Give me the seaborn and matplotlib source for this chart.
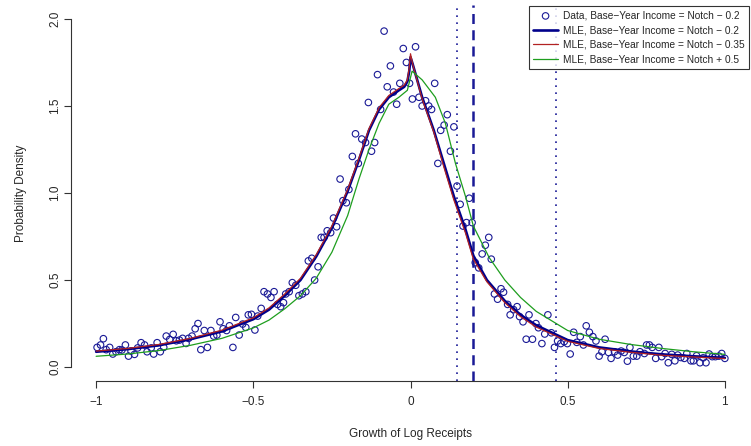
import numpy as np
import pandas as pd
import matplotlib
matplotlib.use("Agg")
import matplotlib.pyplot as plt
import seaborn as sns

data_x = [-0.997, -0.986, -0.977, -0.968, -0.957, -0.947, -0.937, -0.926, -0.918, -0.907,
          -0.897, -0.889, -0.878, -0.868, -0.857, -0.846, -0.838, -0.825, -0.817, -0.806,
          -0.796, -0.785, -0.777, -0.766, -0.755, -0.745, -0.735, -0.725,
          -0.714, -0.706, -0.695, -0.685, -0.676, -0.667, -0.656, -0.646, -0.635, -0.626,
          -0.616, -0.606, -0.596, -0.585, -0.576, -0.565, -0.556, -0.545, -0.534, -0.524,
          -0.516, -0.506, -0.495, -0.486, -0.475, -0.466, -0.455, -0.444, -0.434, -0.423,
          -0.413, -0.404, -0.397, -0.386, -0.376, -0.365, -0.355, -0.344, -0.333, -0.325,
          -0.314, -0.305, -0.294, -0.284, -0.275, -0.265, -0.254, -0.245, -0.235, -0.224,
          -0.215, -0.204, -0.196, -0.185, -0.175, -0.166, -0.155, -0.143, -0.134, -0.124,
          -0.114, -0.105, -0.095, -0.084, -0.074, -0.064, -0.054, -0.044, -0.034, -0.023,
          -0.013, -0.003, 0.006, 0.016, 0.027, 0.037, 0.048, 0.058, 0.067, 0.077,
          0.087, 0.096, 0.107, 0.117, 0.127, 0.138, 0.148, 0.158, 0.167, 0.178,
          0.187, 0.196, 0.206, 0.217, 0.228, 0.238, 0.249, 0.257, 0.267, 0.277,
          0.288, 0.296, 0.309, 0.317, 0.328, 0.339, 0.347, 0.358, 0.368, 0.377,
          0.388, 0.399, 0.407, 0.418, 0.427, 0.437, 0.448, 0.458, 0.468, 0.478,
          0.489, 0.499, 0.508, 0.519, 0.529, 0.540, 0.550, 0.559, 0.569, 0.580,
          0.590, 0.600, 0.609, 0.619, 0.630, 0.638, 0.649, 0.659, 0.670, 0.680,
          0.690, 0.698, 0.709, 0.720, 0.730, 0.744, 0.751, 0.760, 0.769, 0.780,
          0.790, 0.799, 0.810, 0.820, 0.831, 0.841, 0.850, 0.860, 0.871, 0.879,
          0.892, 0.900, 0.910, 0.921, 0.931, 0.940, 0.950, 0.960, 0.970, 0.981,
          0.990, 1.000]
data_y = [0.113, 0.127, 0.163, 0.100, 0.113, 0.075, 0.088, 0.100, 0.098, 0.127,
          0.063, 0.092, 0.073, 0.110, 0.140, 0.127, 0.088, 0.110, 0.075, 0.140,
          0.088, 0.113, 0.178, 0.159, 0.188, 0.151, 0.155, 0.165,
          0.136, 0.165, 0.178, 0.220, 0.250, 0.100, 0.210, 0.113, 0.210, 0.178,
          0.184, 0.260, 0.220, 0.210, 0.237, 0.113, 0.285, 0.184, 0.247, 0.228,
          0.300, 0.303, 0.213, 0.293, 0.337, 0.433, 0.420, 0.400, 0.433, 0.360,
          0.347, 0.370, 0.420, 0.433, 0.485, 0.470, 0.410, 0.420, 0.433, 0.610,
          0.625, 0.500, 0.576, 0.745, 0.745, 0.783, 0.772, 0.856, 0.806, 1.080,
          0.956, 0.944, 1.020, 1.210, 1.340, 1.170, 1.310, 1.290, 1.520, 1.240,
          1.290, 1.680, 1.480, 1.930, 1.610, 1.730, 1.580, 1.510, 1.630, 1.830,
          1.750, 1.630, 1.540, 1.840, 1.550, 1.500, 1.530, 1.500, 1.480, 1.630,
          1.170, 1.360, 1.390, 1.450, 1.240, 1.380, 1.040, 0.935, 0.810, 0.830,
          0.970, 0.830, 0.600, 0.570, 0.650, 0.700, 0.745, 0.620, 0.420, 0.390,
          0.450, 0.430, 0.360, 0.300, 0.330, 0.347, 0.290, 0.260, 0.160, 0.300,
          0.160, 0.250, 0.226, 0.135, 0.190, 0.300, 0.197, 0.113, 0.150, 0.135,
          0.146, 0.135, 0.075, 0.200, 0.142, 0.175, 0.127, 0.237, 0.200, 0.175,
          0.150, 0.063, 0.088, 0.160, 0.084, 0.050, 0.088, 0.069, 0.092, 0.084,
          0.034, 0.113, 0.063, 0.063, 0.088, 0.078, 0.127, 0.127, 0.113, 0.050,
          0.113, 0.060, 0.078, 0.025, 0.073, 0.036, 0.069, 0.055, 0.050, 0.078,
          0.036, 0.036, 0.065, 0.025, 0.053, 0.025, 0.075, 0.060, 0.060, 0.063,
          0.078, 0.050]

# fitted densities (MLE), read at knots
fit_x = [-1.0, -0.9, -0.8, -0.7, -0.6, -0.5, -0.45, -0.4, -0.35, -0.3, -0.25, -0.2,
         -0.164, -0.132, -0.1, -0.069, -0.037, -0.02, -0.01, -0.004, 0.0, 0.007, 0.037,
         0.074, 0.106, 0.138, 0.175, 0.2, 0.243, 0.3, 0.35, 0.4, 0.5, 0.6, 0.7, 0.8, 0.9, 1.0]
fit_blue = [0.088, 0.103, 0.125, 0.16, 0.205, 0.275, 0.33, 0.41, 0.50, 0.635, 0.80, 1.01,
            1.19, 1.36, 1.48, 1.55, 1.59, 1.61, 1.64, 1.70, 1.78, 1.74, 1.55,
            1.36, 1.17, 0.98, 0.79, 0.64, 0.50, 0.38, 0.30, 0.24, 0.155, 0.113, 0.09, 0.073, 0.062, 0.053]
fit_red = [0.092, 0.107, 0.130, 0.165, 0.212, 0.283, 0.34, 0.42, 0.51, 0.645, 0.81, 1.02,
           1.20, 1.37, 1.49, 1.56, 1.60, 1.62, 1.65, 1.72, 1.80, 1.74, 1.54,
           1.35, 1.15, 0.96, 0.77, 0.62, 0.49, 0.37, 0.29, 0.23, 0.148, 0.107, 0.085, 0.068, 0.058, 0.049]

green_x = [-1.0, -0.9, -0.8, -0.7, -0.6, -0.5, -0.45, -0.4, -0.35, -0.3, -0.25, -0.2,
           -0.164, -0.132, -0.1, -0.069, -0.037, -0.01, 0.005, 0.037, 0.079, 0.111,
           0.143, 0.175, 0.2, 0.25, 0.3, 0.35, 0.4, 0.5, 0.6, 0.7, 0.8, 0.9, 1.0]
fit_green = [0.062, 0.075, 0.095, 0.125, 0.165, 0.225, 0.27, 0.335, 0.41, 0.51, 0.66, 0.87,
             1.08, 1.25, 1.40, 1.51, 1.55, 1.59, 1.70, 1.65, 1.55, 1.40,
             1.17, 0.98, 0.81, 0.63, 0.50, 0.40, 0.32, 0.21, 0.16, 0.13, 0.107, 0.088, 0.073]

notch_lines = [0.148, 0.2, 0.463]

legend_labels = ["Data, Base\u2212Year Income = Notch \u2212 0.2",
                 "MLE, Base\u2212Year Income = Notch \u2212 0.2",
                 "MLE, Base\u2212Year Income = Notch \u2212 0.35",
                 "MLE, Base\u2212Year Income = Notch + 0.5"]

sns.set_theme(style="ticks")
plt.rcParams["font.family"] = ["Liberation Sans", "DejaVu Sans"]
plt.rcParams["axes.unicode_minus"] = True

navy = "#1a1a96"
fig = plt.figure(figsize=(7.51, 4.46), dpi=100)
ax = fig.add_axes([71 / 751, 1 - 381 / 446, 679 / 751, 376 / 446])

pts = pd.DataFrame({"x": data_x, "y": data_y})
sns.scatterplot(data=pts, x="x", y="y", ax=ax, marker="o", s=22,
                facecolors="none", edgecolor=navy, linewidth=0.8, label=legend_labels[0], zorder=3)
sns.lineplot(x=fit_x, y=fit_blue, ax=ax, color="#00008B", lw=1.9, label=legend_labels[1],
             sort=False, estimator=None, zorder=4)
sns.lineplot(x=fit_x, y=fit_red, ax=ax, color="#B22222", lw=0.9, label=legend_labels[2],
             sort=False, estimator=None, zorder=5)
sns.lineplot(x=green_x, y=fit_green, ax=ax, color="#1E9E1E", lw=0.9, label=legend_labels[3],
             sort=False, estimator=None, zorder=5)

ax.axvline(notch_lines[0], color=navy, lw=1.2, ls=(0, (1, 3.2)), zorder=2)
ax.axvline(notch_lines[1], color=navy, lw=1.8, ls=(0, (4, 2.5)), zorder=2)
ax.axvline(notch_lines[2], color=navy, lw=1.2, ls=(0, (1, 3.2)), zorder=2)

ax.set_xlim(-1.08, 1.08)
ax.set_ylim(-0.08, 2.08)
ax.set_xticks([-1, -0.5, 0, 0.5, 1])
ax.set_xticklabels(["\u22121", "\u22120.5", "0", "0.5", "1"])
ax.set_yticks([0, 0.5, 1, 1.5, 2])
ax.set_yticklabels(["0.0", "0.5", "1.0", "1.5", "2.0"], rotation=90, va="center")
ax.tick_params(labelsize=8.5, length=5, width=0.8, color="#333333", pad=6)
ax.tick_params(axis="y", pad=2)
for s in ["top", "right"]:
    ax.spines[s].set_visible(False)
ax.spines["left"].set_bounds(0, 2)
ax.spines["bottom"].set_bounds(-1, 1)
ax.spines["left"].set_color("#333333")
ax.spines["bottom"].set_color("#333333")
ax.spines["left"].set_linewidth(0.8)
ax.spines["bottom"].set_linewidth(0.8)

ax.set_xlabel("Growth of Log Receipts", fontsize=8.5, labelpad=14)
ax.set_ylabel("Probability Density", fontsize=8.5, labelpad=16)

leg = ax.legend(loc="upper right", fontsize=7.3, frameon=True, fancybox=False,
                handlelength=2.4, handletextpad=0.5, borderpad=0.45, labelspacing=0.45,
                borderaxespad=0.1)
leg.get_frame().set_edgecolor("black")
leg.get_frame().set_linewidth(0.8)
leg.set_zorder(10)

fig.savefig("out.png", dpi=100)
